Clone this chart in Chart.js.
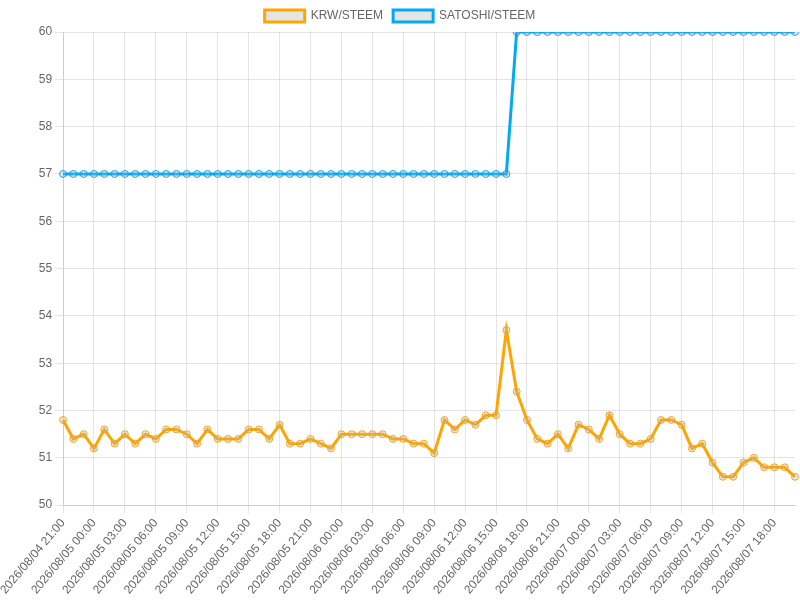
<!DOCTYPE html>
<html lang="en">
<head>
    <meta charset="UTF-8">
    <title>STEEM Price</title>
    <script src="https://cdn.jsdelivr.net/npm/chart.js"></script>
    <style>
        body { margin: 0; padding: 0; background: #fff; }
        #wrap { width: 800px; height: 600px; }
    </style>
</head>
<body>
    <div id="wrap"><canvas id="price-chart"></canvas></div>
    <script>
        // Hourly labels, 2026/08/04 21:00 .. 2026/08/07 20:00
        const hours = [
            "2026/08/04 21:00", "2026/08/04 22:00", "2026/08/04 23:00",
            "2026/08/05 00:00", "2026/08/05 01:00", "2026/08/05 02:00", "2026/08/05 03:00",
            "2026/08/05 04:00", "2026/08/05 05:00", "2026/08/05 06:00", "2026/08/05 07:00",
            "2026/08/05 08:00", "2026/08/05 09:00", "2026/08/05 10:00", "2026/08/05 11:00",
            "2026/08/05 12:00", "2026/08/05 13:00", "2026/08/05 14:00", "2026/08/05 15:00",
            "2026/08/05 16:00", "2026/08/05 17:00", "2026/08/05 18:00", "2026/08/05 19:00",
            "2026/08/05 20:00", "2026/08/05 21:00", "2026/08/05 22:00", "2026/08/05 23:00",
            "2026/08/06 00:00", "2026/08/06 01:00", "2026/08/06 02:00", "2026/08/06 03:00",
            "2026/08/06 04:00", "2026/08/06 05:00", "2026/08/06 06:00", "2026/08/06 07:00",
            "2026/08/06 08:00", "2026/08/06 09:00", "2026/08/06 10:00", "2026/08/06 11:00",
            "2026/08/06 12:00", "2026/08/06 13:00", "2026/08/06 14:00", "2026/08/06 15:00",
            "2026/08/06 16:00", "2026/08/06 17:00", "2026/08/06 18:00", "2026/08/06 19:00",
            "2026/08/06 20:00", "2026/08/06 21:00", "2026/08/06 22:00", "2026/08/06 23:00",
            "2026/08/07 00:00", "2026/08/07 01:00", "2026/08/07 02:00", "2026/08/07 03:00",
            "2026/08/07 04:00", "2026/08/07 05:00", "2026/08/07 06:00", "2026/08/07 07:00",
            "2026/08/07 08:00", "2026/08/07 09:00", "2026/08/07 10:00", "2026/08/07 11:00",
            "2026/08/07 12:00", "2026/08/07 13:00", "2026/08/07 14:00", "2026/08/07 15:00",
            "2026/08/07 16:00", "2026/08/07 17:00", "2026/08/07 18:00", "2026/08/07 19:00",
            "2026/08/07 20:00"
        ];

        const krwSteem = [
            51.8, 51.4, 51.5, 51.2, 51.6, 51.3, 51.5, 51.3, 51.5, 51.4,
            51.6, 51.6, 51.5, 51.3, 51.6, 51.4, 51.4, 51.4, 51.6, 51.6,
            51.4, 51.7, 51.3, 51.3, 51.4, 51.3, 51.2, 51.5, 51.5, 51.5,
            51.5, 51.5, 51.4, 51.4, 51.3, 51.3, 51.1, 51.8, 51.6, 51.8,
            51.7, 51.9, 51.9, 53.7, 52.4, 51.8, 51.4, 51.3, 51.5, 51.2,
            51.7, 51.6, 51.4, 51.9, 51.5, 51.3, 51.3, 51.4, 51.8, 51.8,
            51.7, 51.2, 51.3, 50.9, 50.6, 50.6, 50.9, 51.0, 50.8, 50.8,
            50.8, 50.6
        ];

        const satoshiSteem = [
            57, 57, 57, 57, 57, 57, 57, 57, 57, 57,
            57, 57, 57, 57, 57, 57, 57, 57, 57, 57,
            57, 57, 57, 57, 57, 57, 57, 57, 57, 57,
            57, 57, 57, 57, 57, 57, 57, 57, 57, 57,
            57, 57, 57, 57, 60, 60, 60, 60, 60, 60,
            60, 60, 60, 60, 60, 60, 60, 60, 60, 60,
            60, 60, 60, 60, 60, 60, 60, 60, 60, 60,
            60, 60
        ];

        const ctx = document.getElementById("price-chart").getContext("2d");
        new Chart(ctx, {
            type: 'line',
            data: {
                labels: hours,
                datasets: [
                    {
                        label: 'KRW/STEEM',
                        data: krwSteem,
                        borderColor: '#ffa500',
                        backgroundColor: 'rgba(0, 0, 0, 0.1)',
                        borderWidth: 3,
                        pointRadius: 3.5,
                        pointBorderWidth: 1,
                        pointBorderColor: 'rgba(240, 160, 20, 0.9)',
                        pointBackgroundColor: 'rgba(180, 180, 180, 0.3)',
                        tension: 0,
                        fill: false
                    },
                    {
                        label: 'SATOSHI/STEEM',
                        data: satoshiSteem,
                        borderColor: '#03a9f4',
                        backgroundColor: 'rgba(0, 0, 0, 0.1)',
                        borderWidth: 3,
                        pointRadius: 3.5,
                        pointBorderWidth: 1,
                        pointBorderColor: 'rgba(3, 160, 235, 0.9)',
                        pointBackgroundColor: 'rgba(180, 180, 180, 0.3)',
                        tension: 0,
                        fill: false
                    }
                ]
            },
            options: {
                responsive: true,
                maintainAspectRatio: false,
                animation: false,
                plugins: { legend: { display: true, position: 'top' } },
                scales: {
                    x: {
                        ticks: { autoSkip: true, maxRotation: 50, minRotation: 50 }
                    },
                    y: {
                        min: 50,
                        max: 60,
                        ticks: { stepSize: 1 }
                    }
                }
            }
        });
    </script>
</body>
</html>
